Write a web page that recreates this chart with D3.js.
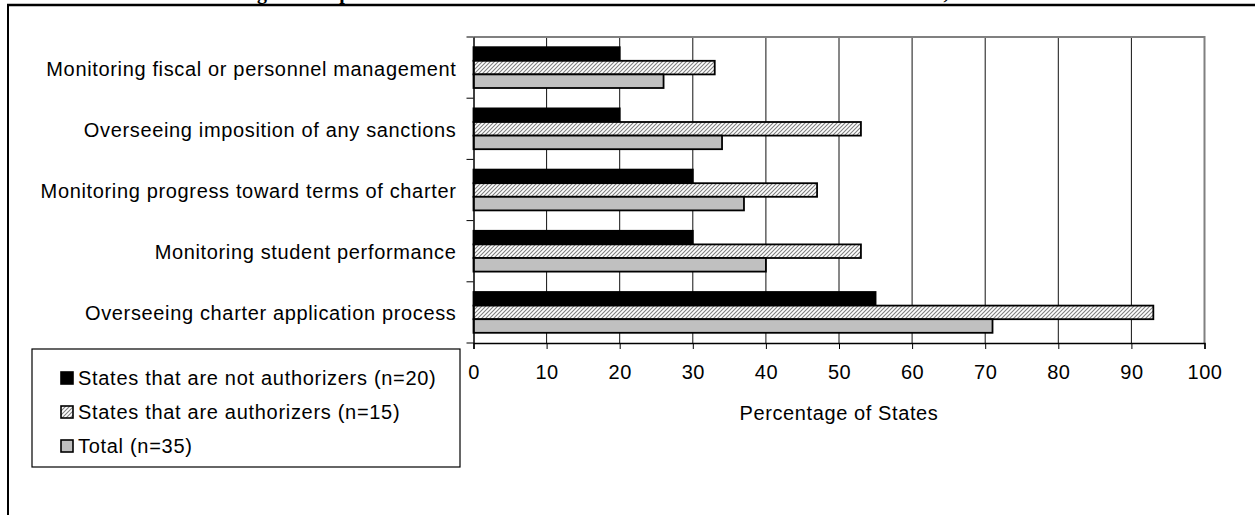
<!doctype html>
<html>

<head>
    <meta charset="utf-8">
    <title>Monitoring roles chart</title>
    <style>
        body { margin: 0; background: #fff; }
        svg text { font-family: "Liberation Sans", Arial, sans-serif; fill: #000; }
    </style>
</head>

<body>
    <script src="https://d3js.org/d3.v7.min.js"></script>
    <script>
    // categories, top to bottom
    var categories = [
        "Monitoring fiscal or personnel management",
        "Overseeing imposition of any sanctions",
        "Monitoring progress toward terms of charter",
        "Monitoring student performance ",
        "Overseeing charter application process"
    ];

    // series names (legend order = bar order inside a group)
    var seriesNames = [
        "States that are not authorizers (n=20)",
        "States that are authorizers (n=15)",
        "Total (n=35)"
    ];

    // values (percent)
    var notAuthorizers = [20, 20, 30, 30, 55];
    var authorizers = [33, 53, 47, 53, 93];
    var total = [26, 34, 37, 40, 71];

    var xTicks = [0, 10, 20, 30, 40, 50, 60, 70, 80, 90, 100];

    var titleText = "Exhibit 5. State Monitoring Role Reported for Charter Schools in States That Are and Are Not Authorizers, 1999";

    var width = 1255, height = 515;
    var labelFont = "20px";

    var svg = d3.select("body")
        .append("svg")
        .attr("width", width)
        .attr("height", height)

    // hatch pattern for the authorizers series
    var defs = svg.append("defs")
    var pat = defs.append("pattern")
        .attr("id", "hatch")
        .attr("patternUnits", "userSpaceOnUse")
        .attr("width", 4)
        .attr("height", 4)
    pat.append("rect").attr("width", 4).attr("height", 4).attr("fill", "#fff")
    pat.append("path")
        .attr("d", "M-1,1 l2,-2 M0,4 l4,-4 M3,5 l2,-2")
        .attr("stroke", "#808080")
        .attr("stroke-width", 1.1)

    var fills = ["#000", "url(#hatch)", "#c0c0c0"];

    // title, mostly cut off by the top of the picture (as in the source)
    var title = svg.append("text")
        .attr("y", -1)
        .style("font-family", "'Liberation Serif', 'Times New Roman', serif")
        .style("font-weight", "bold")
        .style("font-size", "20px")
        .text(titleText)
    // line the "g" of "Monitoring" up with the source
    var gIdx = titleText.indexOf("Monitoring") + 9;
    title.attr("x", 257 - title.node().getSubStringLength(0, gIdx))

    // frame of the page: thick top rule and left rule
    svg.append("line")
        .attr("x1", 7).attr("x2", width)
        .attr("y1", 5).attr("y2", 5)
        .attr("stroke", "#000").attr("stroke-width", 2.5)
    svg.append("line")
        .attr("x1", 8).attr("x2", 8)
        .attr("y1", 4).attr("y2", height)
        .attr("stroke", "#000").attr("stroke-width", 2)

    // scales
    var x = d3.scaleLinear()
        .domain([0, 100])
        .range([473.5, 1204.5])

    var y = d3.scaleBand()
        .domain(categories)
        .range([37, 343])

    var ySub = d3.scaleBand()
        .domain(d3.range(seriesNames.length))
        .range([0, y.bandwidth()])
        .paddingInner(0)
        .paddingOuter(0.75)

    // gridlines
    svg.append("g")
        .selectAll("line")
        .data(xTicks.slice(1, -1))
        .join("line")
        .attr("x1", d => x(d)).attr("x2", d => x(d))
        .attr("y1", 37).attr("y2", 343)
        .attr("stroke", "#111")
        .attr("stroke-width", 1)

    // plot border (top and right, gray)
    svg.append("path")
        .attr("d", "M" + x(0) + "," + 37 + "H" + x(100) + "V" + 343)
        .attr("fill", "none")
        .attr("stroke", "#808080")
        .attr("stroke-width", 2)

    // bars
    var series = [notAuthorizers, authorizers, total];
    series.forEach(function(vals, si) {
        svg.append("g")
            .selectAll("rect")
            .data(vals)
            .join("rect")
            .attr("x", x(0))
            .attr("y", (d, i) => y(categories[i]) + ySub(si))
            .attr("width", d => x(d) - x(0))
            .attr("height", ySub.bandwidth())
            .attr("fill", fills[si])
            .attr("stroke", "#000")
            .attr("stroke-width", 1.8)
    })

    // left axis with category labels
    var yAxis = svg.append("g")
        .attr("transform", "translate(" + x(0) + ",0)")
        .call(d3.axisLeft(y).tickSize(0).tickPadding(17))
    yAxis.select(".domain").attr("stroke", "#000").attr("stroke-width", 1.5)
    yAxis.selectAll("text")
        .attr("dy", "0.4em")
        .style("font-size", labelFont)
        .style("letter-spacing", "0.65px")

    // boundary ticks on the category axis
    var bounds = categories.map(c => y(c)).concat([y.range()[1]]);
    svg.append("g")
        .selectAll("line")
        .data(bounds)
        .join("line")
        .attr("x1", x(0) - 7).attr("x2", x(0))
        .attr("y1", d => d).attr("y2", d => d)
        .attr("stroke", "#000")

    // bottom axis
    var xAxis = svg.append("g")
        .attr("transform", "translate(0,343)")
        .call(d3.axisBottom(x).tickValues(xTicks).tickSize(6).tickPadding(16))
    xAxis.select(".domain").attr("stroke", "#000").attr("stroke-width", 1.5)
    xAxis.selectAll("text")
        .style("font-size", labelFont)
        .style("letter-spacing", "0.5px")

    svg.append("text")
        .attr("x", (x(0) + x(100)) / 2)
        .attr("y", 420)
        .attr("text-anchor", "middle")
        .style("font-size", labelFont)
        .style("letter-spacing", "0.6px")
        .text("Percentage of States")

    // legend
    var legend = svg.append("g")
    legend.append("rect")
        .attr("x", 32).attr("y", 349)
        .attr("width", 428).attr("height", 118)
        .attr("fill", "#fff")
        .attr("stroke", "#000")
        .attr("stroke-width", 1.2)

    var items = legend.selectAll("g.item")
        .data(seriesNames)
        .join("g")
        .attr("class", "item")
        .attr("transform", (d, i) => "translate(0," + (378 + i * 34) + ")")
    items.append("rect")
        .attr("x", 61).attr("y", -6)
        .attr("width", 12).attr("height", 12)
        .attr("fill", (d, i) => fills[i])
        .attr("stroke", "#000")
        .attr("stroke-width", 1.6)
    items.append("text")
        .attr("x", 78)
        .attr("dy", "0.36em")
        .style("font-size", labelFont)
        .style("letter-spacing", "0.7px")
        .text(d => d)
    </script>
</body>
</html>
